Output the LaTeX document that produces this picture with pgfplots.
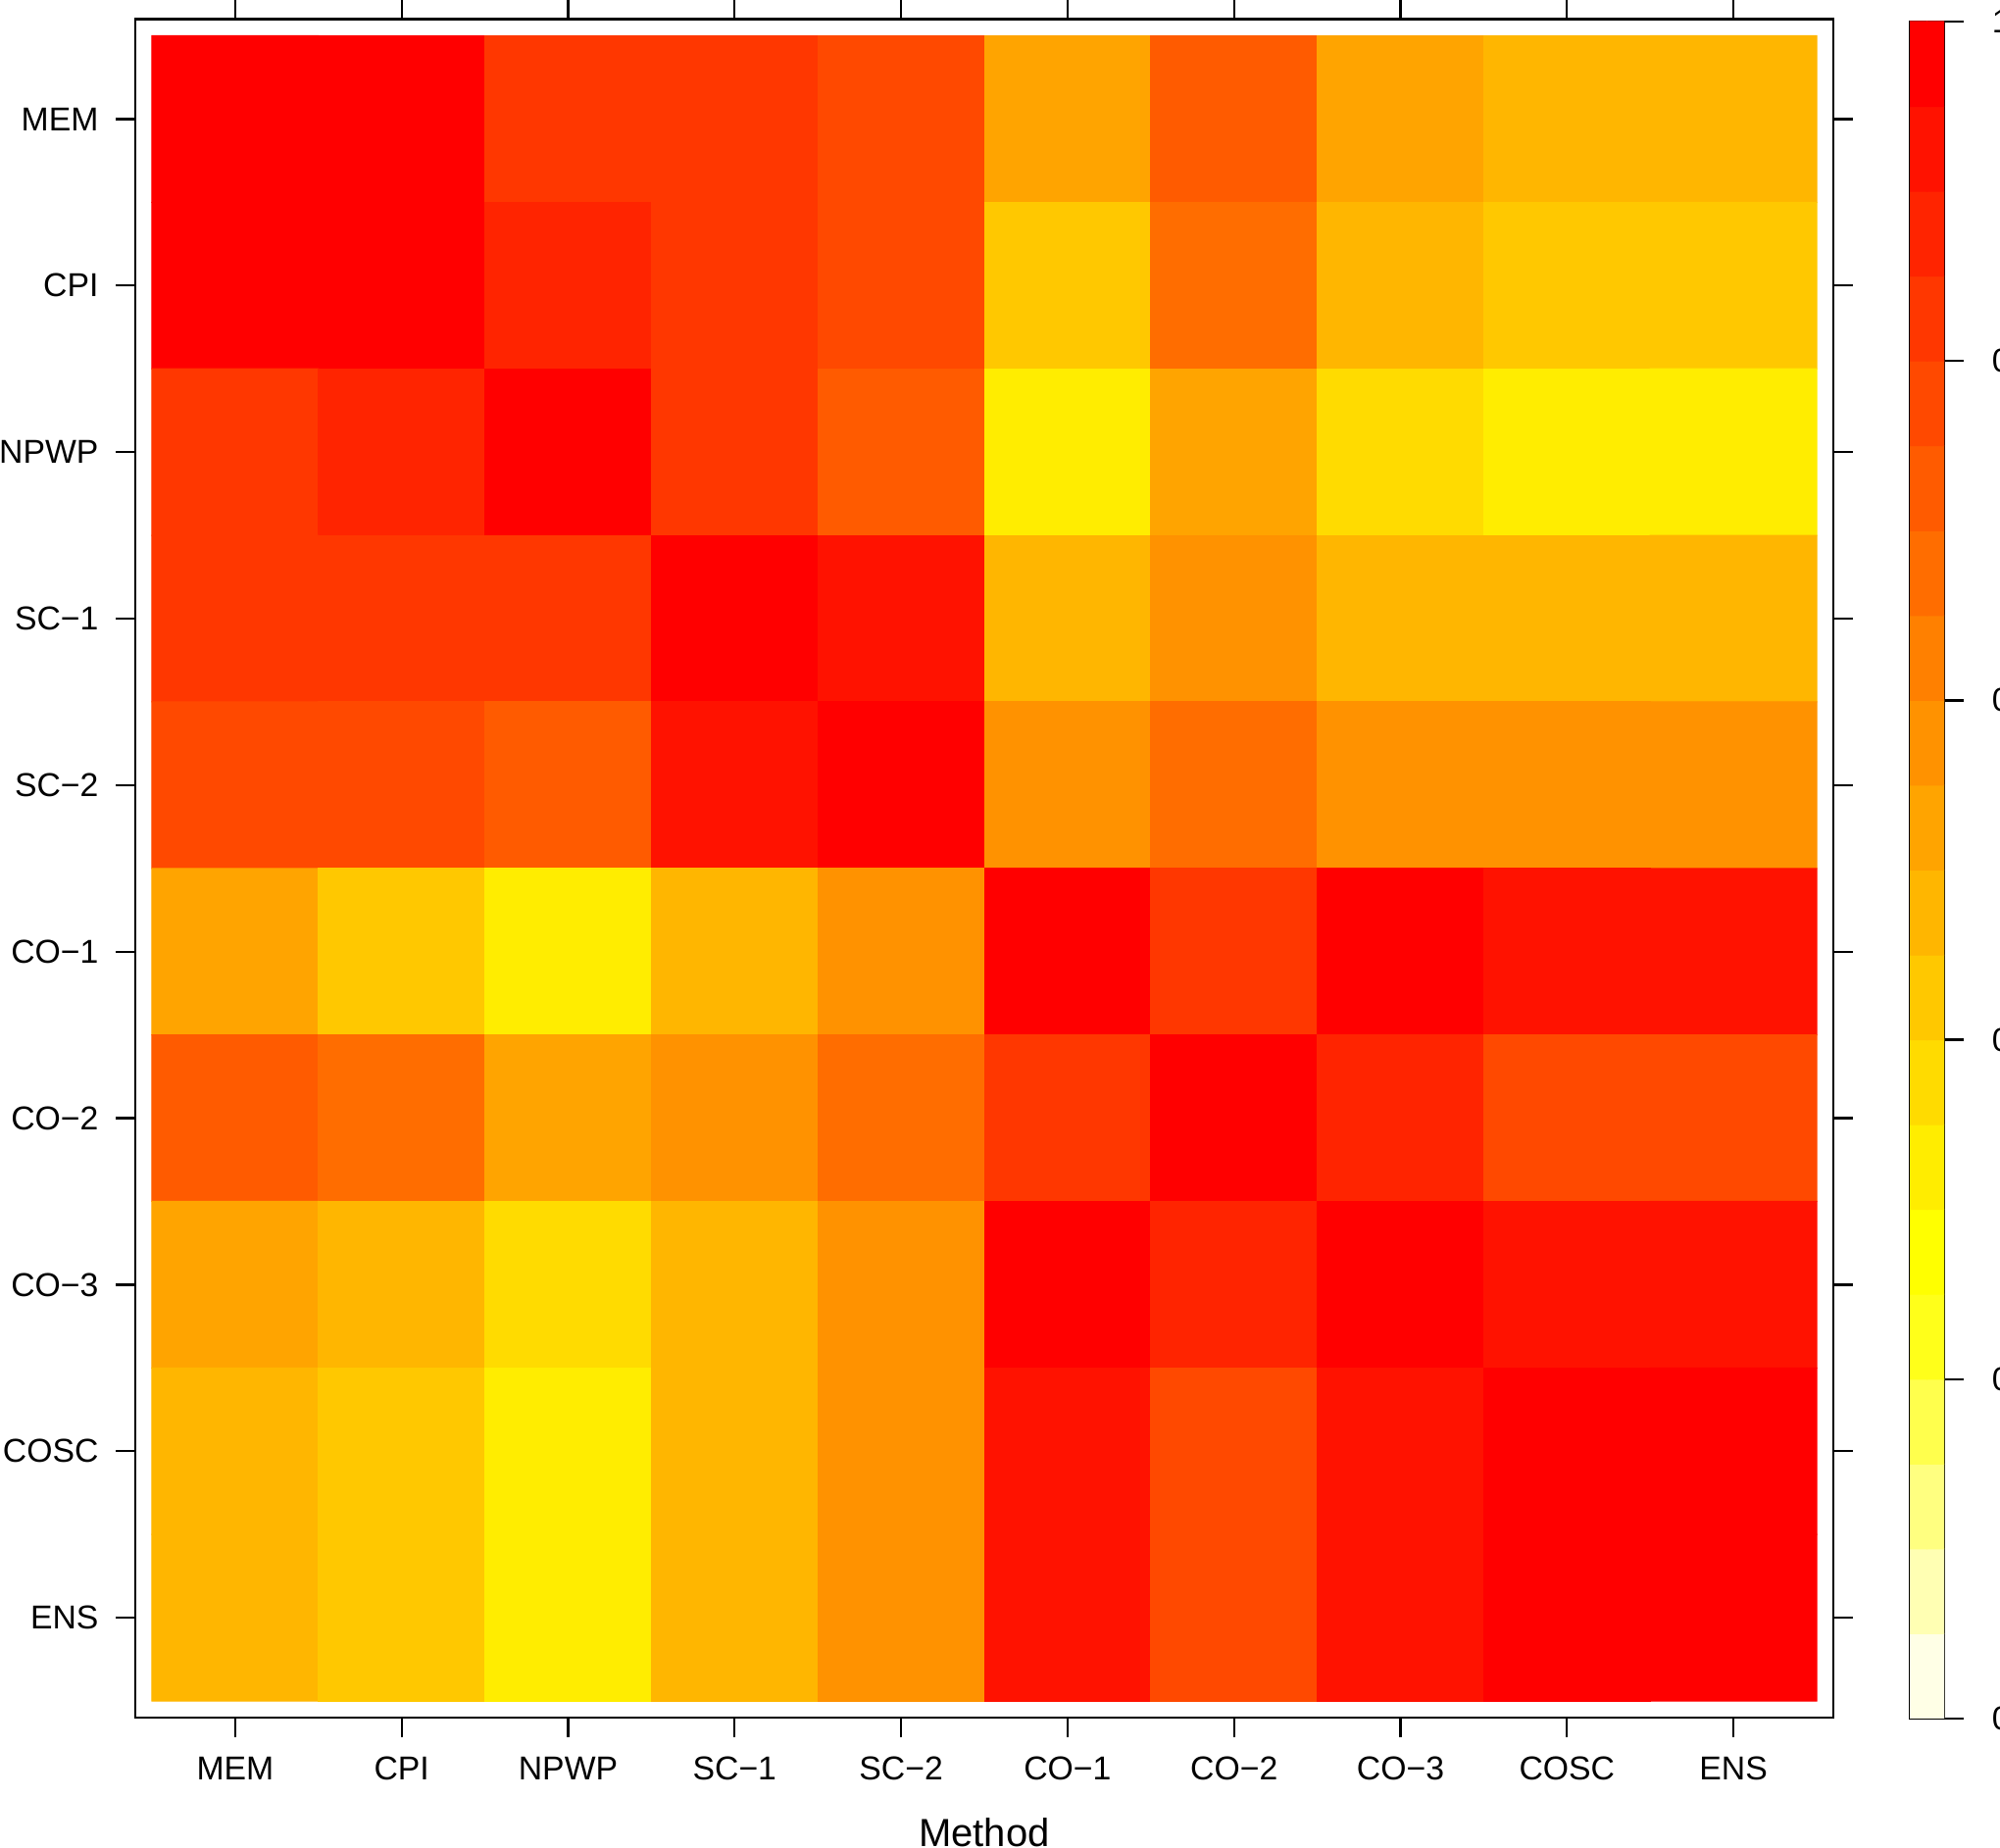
\documentclass[border=0pt]{standalone}
\usepackage{fontspec}
\setmainfont{Liberation Sans}
\usepackage{pgfplots}
\pgfplotsset{compat=1.18}
% heat.colors(20), lowest value first
\pgfplotsset{
  colormap={heat}{rgb255=(255,255,230) rgb255=(255,255,179) rgb255=(255,255,128)
    rgb255=(255,255,77) rgb255=(255,255,26) rgb255=(255,255,0) rgb255=(255,237,0)
    rgb255=(255,219,0) rgb255=(255,200,0) rgb255=(255,182,0) rgb255=(255,164,0)
    rgb255=(255,146,0) rgb255=(255,128,0) rgb255=(255,109,0) rgb255=(255,91,0)
    rgb255=(255,73,0) rgb255=(255,55,0) rgb255=(255,36,0) rgb255=(255,18,0)
    rgb255=(255,0,0)},
  lat/.style={scale only axis, anchor=south west, enlargelimits=false,
    axis line style={line width=0.9pt}, tick style={black, line width=0.9pt},
    tick align=outside, major tick length=8pt,
    point meta min=0.025, point meta max=0.975,
    ticklabel style={font=\fontsize{13.5}{16}\selectfont}},
}
\begin{document}
\begin{tikzpicture}
\begin{axis}[lat, at={(55.2pt,53.2pt)}, width=692.8pt, height=693pt,
  xmin=0.4, xmax=10.6, ymin=0.4, ymax=10.6, y dir=reverse,
  xtick={1,...,10}, ytick={1,...,10},
  xticklabels={MEM,CPI,NPWP,SC−1,SC−2,CO−1,CO−2,CO−3,COSC,ENS},
  yticklabels={MEM,CPI,NPWP,SC−1,SC−2,CO−1,CO−2,CO−3,COSC,ENS},
  xticklabel style={yshift=-4.5pt}, yticklabel style={xshift=-3.5pt},
]
\addplot[matrix plot*, mesh/cols=10, point meta=explicit] coordinates {
(1,1)[0.975] (2,1)[0.975] (3,1)[0.825] (4,1)[0.825] (5,1)[0.775] (6,1)[0.525] (7,1)[0.725] (8,1)[0.525] (9,1)[0.475] (10,1)[0.475]
(1,2)[0.975] (2,2)[0.975] (3,2)[0.875] (4,2)[0.825] (5,2)[0.775] (6,2)[0.425] (7,2)[0.675] (8,2)[0.475] (9,2)[0.425] (10,2)[0.425]
(1,3)[0.825] (2,3)[0.875] (3,3)[0.975] (4,3)[0.825] (5,3)[0.725] (6,3)[0.325] (7,3)[0.525] (8,3)[0.375] (9,3)[0.325] (10,3)[0.325]
(1,4)[0.825] (2,4)[0.825] (3,4)[0.825] (4,4)[0.975] (5,4)[0.925] (6,4)[0.475] (7,4)[0.575] (8,4)[0.475] (9,4)[0.475] (10,4)[0.475]
(1,5)[0.775] (2,5)[0.775] (3,5)[0.725] (4,5)[0.925] (5,5)[0.975] (6,5)[0.575] (7,5)[0.675] (8,5)[0.575] (9,5)[0.575] (10,5)[0.575]
(1,6)[0.525] (2,6)[0.425] (3,6)[0.325] (4,6)[0.475] (5,6)[0.575] (6,6)[0.975] (7,6)[0.825] (8,6)[0.975] (9,6)[0.925] (10,6)[0.925]
(1,7)[0.725] (2,7)[0.675] (3,7)[0.525] (4,7)[0.575] (5,7)[0.675] (6,7)[0.825] (7,7)[0.975] (8,7)[0.875] (9,7)[0.775] (10,7)[0.775]
(1,8)[0.525] (2,8)[0.475] (3,8)[0.375] (4,8)[0.475] (5,8)[0.575] (6,8)[0.975] (7,8)[0.875] (8,8)[0.975] (9,8)[0.925] (10,8)[0.925]
(1,9)[0.475] (2,9)[0.425] (3,9)[0.325] (4,9)[0.475] (5,9)[0.575] (6,9)[0.925] (7,9)[0.775] (8,9)[0.925] (9,9)[0.975] (10,9)[0.975]
(1,10)[0.475] (2,10)[0.425] (3,10)[0.325] (4,10)[0.475] (5,10)[0.575] (6,10)[0.925] (7,10)[0.775] (8,10)[0.925] (9,10)[0.975] (10,10)[0.975]
};
\end{axis}
% colour key
\begin{axis}[lat, at={(779.2pt,52.8pt)}, width=14pt, height=692.4pt,
  xmin=-0.5, xmax=1.5, ymin=0, ymax=1, xtick=\empty,
  ytick={0,0.2,0.4,0.6,0.8,1}, ytick pos=right, yticklabel pos=right,
  yticklabels={0.0,0.2,0.4,0.6,0.8,1.0}, yticklabel style={xshift=8pt}]
\addplot[matrix plot*, mesh/cols=2, point meta=y] coordinates {
(0,0.025) (1,0.025) (0,0.075) (1,0.075) (0,0.125) (1,0.125) (0,0.175) (1,0.175)
(0,0.225) (1,0.225) (0,0.275) (1,0.275) (0,0.325) (1,0.325) (0,0.375) (1,0.375)
(0,0.425) (1,0.425) (0,0.475) (1,0.475) (0,0.525) (1,0.525) (0,0.575) (1,0.575)
(0,0.625) (1,0.625) (0,0.675) (1,0.675) (0,0.725) (1,0.725) (0,0.775) (1,0.775)
(0,0.825) (1,0.825) (0,0.875) (1,0.875) (0,0.925) (1,0.925) (0,0.975) (1,0.975)
};
\end{axis}
\node[anchor=base, font=\fontsize{16}{19}\selectfont] at (401.6pt,0.6pt) {Method};
\pgfresetboundingbox
\path[use as bounding box] (0,0) rectangle (816pt,754pt);
\end{tikzpicture}
\end{document}
